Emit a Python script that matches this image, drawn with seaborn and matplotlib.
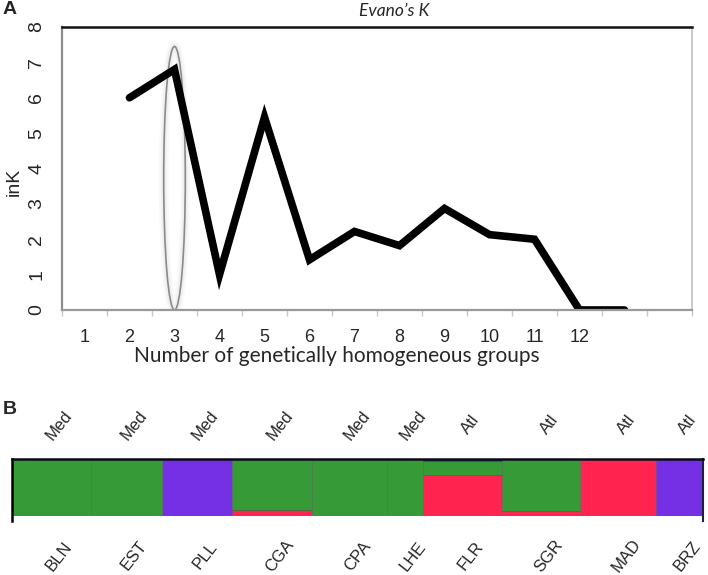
import numpy as np
import pandas as pd
import matplotlib.pyplot as plt
from matplotlib.patches import Ellipse
import seaborn as sns

# panel A data
group_labels = ['1', '2', '3', '4', '5', '6', '7', '8', '9', '10', '11', '12', '', '']
k_groups = [2, 3, 4, 5, 6, 7, 8, 9, 10, 11, 12, 13]
ink_values = [6.0, 6.8, 1.0, 5.45, 1.42, 2.22, 1.82, 2.87, 2.13, 2.0, 0.0, 0.0]
best_k = 3

# panel B data
populations = ['BLN', 'EST', 'PLL', 'CGA', 'CPA', 'LHE', 'FLR', 'SGR', 'MAD', 'BRZ']
regions = ['Med', 'Med', 'Med', 'Med', 'Med', 'Med', 'Atl', 'Atl', 'Atl', 'Atl']
pop_widths = [79, 71, 70, 80, 75, 36, 79, 78, 76, 47]
q_red = [0.0, 0.0, 0.0, 0.10, 0.0, 0.0, 0.72, 0.08, 1.0, 0.0]
q_purple = [0.0, 0.0, 1.0, 0.0, 0.0, 0.0, 0.0, 0.0, 0.0, 1.0]
q_green = [1.0, 1.0, 0.0, 0.90, 1.0, 1.0, 0.24, 0.92, 0.0, 0.0]
q_navy = [0.0, 0.0, 0.0, 0.0, 0.0, 0.0, 0.04, 0.0, 0.0, 0.0]

sns.set_style('white')
plt.rcParams['font.family'] = ['Liberation Sans', 'DejaVu Sans']

W, H = 708, 575
fig = plt.figure(figsize=(W / 100, H / 100), dpi=100)

# ---- panel A ----
axA = fig.add_axes([62 / W, 1 - 310 / H, 630 / W, 283 / H])
df = pd.DataFrame({'k': k_groups, 'ink': ink_values})
sns.lineplot(data=df, x='k', y='ink', ax=axA, color='black', linewidth=5.5,
             solid_capstyle='round', solid_joinstyle='miter')

ymax = max(ink_values) + 0.65
for lw, a in [(7, 0.06), (4, 0.10)]:
    axA.add_patch(Ellipse((best_k, ymax / 2), 0.48, ymax, fill=False,
                          edgecolor='#999999', lw=lw, alpha=a))
axA.add_patch(Ellipse((best_k, ymax / 2), 0.48, ymax, fill=False,
                      edgecolor='#8a8a8a', lw=1.2))

axA.set_xlim(0.5, len(group_labels) + 0.5)
axA.set_ylim(0, 8)
axA.set_xticks(np.arange(1, len(group_labels) + 1))
axA.set_xticklabels(group_labels, fontsize=13)
axA.set_xticks(np.arange(0.5, len(group_labels) + 1, 1), minor=True)
axA.tick_params(axis='x', which='major', length=0, pad=14)
axA.tick_params(axis='x', which='minor', bottom=True, length=4, width=1, color='#c8c8c8')
axA.set_yticks(range(0, 9))
axA.set_yticklabels([str(v) for v in range(0, 9)], fontsize=14, rotation=90, va='center')
axA.tick_params(axis='y', length=0, pad=12)

for side, col, lw in [('top', '#111111', 1.8), ('left', '#8c8c8c', 1.6),
                      ('bottom', '#999999', 1.6), ('right', '#c0c0c0', 1.2)]:
    axA.spines[side].set_visible(True)
    axA.spines[side].set_color(col)
    axA.spines[side].set_linewidth(lw)

axA.set_xlabel('Number of genetically homogeneous groups', fontsize=15, family=['Lato', 'DejaVu Sans'])
axA.xaxis.set_label_coords((337 - 62) / 630, (310 - 356) / 283)
axA.xaxis.label.set_va('center')
axA.set_ylabel('inK', fontsize=14)
axA.yaxis.set_label_coords((14 - 62) / 630, (310 - 182) / 283)
axA.yaxis.label.set_va('center')
axA.text((394 - 62) / 630, (310 - 11) / 283, 'Evano\u2019s K', transform=axA.transAxes,
         ha='center', va='center', fontsize=12.5, style='italic', family=['Lato', 'DejaVu Sans'])

fig.text(3 / W, 1 - 9 / H, 'A', fontsize=14, fontweight='bold', va='center')
fig.text(3 / W, 1 - 409 / H, 'B', fontsize=14, fontweight='bold', va='center')

# ---- panel B ----
axB = fig.add_axes([12 / W, 1 - 516 / H, 691 / W, 57 / H])
widths = np.array(pop_widths, dtype=float)
lefts = np.concatenate([[0], np.cumsum(widths)[:-1]])
centers = lefts + widths / 2
bottom = np.zeros(len(populations))
for vals, col in [(q_red, '#ff2550'), (q_purple, '#7530e6'),
                  (q_green, '#369a36'), (q_navy, '#1f2a6e')]:
    vals = np.array(vals)
    axB.bar(lefts, vals, width=widths, bottom=bottom, align='edge', color=col,
            edgecolor=(0, 0, 0, 0.18), linewidth=0.7)
    bottom += vals

axB.set_xlim(0, widths.sum())
axB.set_ylim(0, 1)
axB.set_xticks([])
axB.set_yticks([])
axB.spines['top'].set_color('#0a0a1a')
axB.spines['top'].set_linewidth(1.8)
axB.spines['left'].set_color('black')
axB.spines['left'].set_linewidth(1.8)
axB.spines['left'].set_bounds(-0.09, 1)
axB.spines['right'].set_color('#202040')
axB.spines['right'].set_linewidth(1.5)
axB.spines['right'].set_bounds(-0.09, 1)
axB.spines['bottom'].set_visible(False)
for s in axB.spines.values():
    s.set_clip_on(False)

for cx, reg, pop in zip(centers, regions, populations):
    axB.text(cx + 8, (516 - 425) / 57, reg, ha='center', va='center', rotation=52,
             fontsize=12, transform=axB.get_xaxis_transform())
    axB.text(cx + 8, (516 - 556) / 57, pop, ha='center', va='center', rotation=52,
             fontsize=12, transform=axB.get_xaxis_transform())

fig.savefig('out.png', dpi=100)
